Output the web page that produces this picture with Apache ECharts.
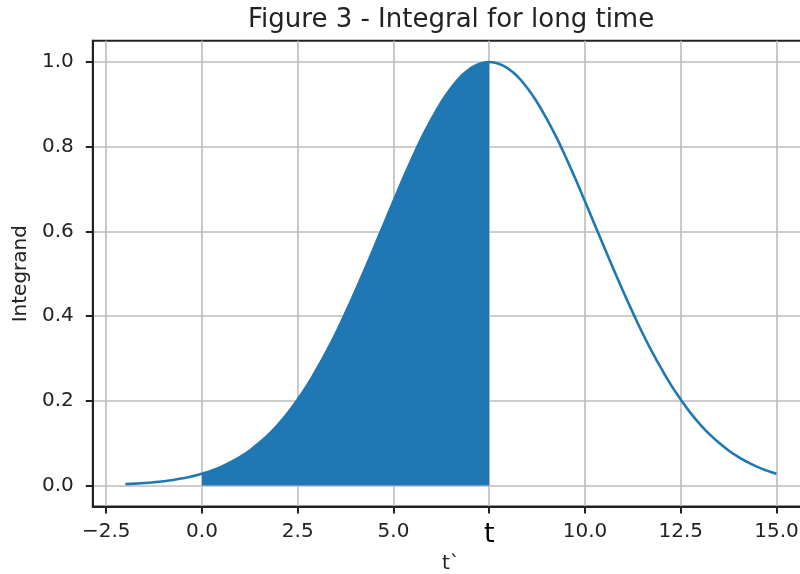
<!DOCTYPE html>
<html>
<head>
<meta charset="utf-8">
<script src="https://cdn.jsdelivr.net/npm/echarts@6/dist/echarts.min.js"></script>
<style>html,body{margin:0;padding:0;background:#fff;}#c{width:800px;height:574px;}</style>
</head>
<body>
<div id="c"></div>
<script>
// values
var xs = [-2, -1.75, -1.5, -1.25, -1, -0.75, -0.5, -0.25,
          0, 0.25, 0.5, 0.75, 1, 1.25, 1.5, 1.75, 2, 2.25, 2.5, 2.75,
          3, 3.25, 3.5, 3.75, 4, 4.25, 4.5, 4.75, 5, 5.25, 5.5, 5.75,
          6, 6.25, 6.5, 6.75, 7, 7.25, 7.5, 7.75, 8, 8.25, 8.5, 8.75,
          9, 9.25, 9.5, 9.75, 10, 10.25, 10.5, 10.75, 11, 11.25, 11.5, 11.75,
          12, 12.25, 12.5, 12.75, 13, 13.25, 13.5, 13.75, 14, 14.25, 14.5, 14.75, 15];
var ys = [0.0032, 0.0043, 0.0057, 0.0076, 0.0100, 0.0130, 0.0169, 0.0217,
          0.0277, 0.0350, 0.0439, 0.0548, 0.0675, 0.0826, 0.101, 0.121, 0.145, 0.172, 0.203, 0.237,
          0.275, 0.316, 0.360, 0.408, 0.458, 0.510, 0.563, 0.617, 0.671, 0.724, 0.775, 0.823,
          0.866, 0.905, 0.938, 0.965, 0.984, 0.996, 1.000, 0.996, 0.984, 0.965, 0.938, 0.905,
          0.866, 0.823, 0.775, 0.724, 0.671, 0.617, 0.563, 0.510, 0.458, 0.408, 0.360, 0.316,
          0.275, 0.237, 0.203, 0.172, 0.145, 0.121, 0.101, 0.0826, 0.0675, 0.0548, 0.0439, 0.0350, 0.0277];
var fillFrom = 0;
var fillTo = 7.5;
var xTicks = [-2.5, 0, 2.5, 5, 7.5, 10, 12.5, 15];
var yTicks = [0, 0.2, 0.4, 0.6, 0.8, 1.0];
var titleText = 'Figure 3 - Integral for long time';
var xName = 't`';
var yName = 'Integrand';
var markedTick = 7.5;
var markedLabel = 't';

var curve = xs.map(function (x, i) { return [x, ys[i]]; });
var filled = curve.filter(function (p) { return p[0] >= fillFrom && p[0] <= fillTo; });

var FONT = 'DejaVu Sans';
var TXT = '#222';
var chart = echarts.init(document.getElementById('c'), null, {renderer: 'canvas'});
chart.setOption({
  animation: false,
  backgroundColor: '#fff',
  title: {
    text: titleText,
    left: 243, top: 2,
    textStyle: {fontFamily: FONT, fontSize: 26, fontWeight: 'normal', color: TXT}
  },
  grid: {
    left: 92.8, top: 40.8, width: 716.2, height: 465.8,
    outerBoundsMode: 'none', containLabel: false,
    show: true, borderColor: '#222', borderWidth: 2, backgroundColor: 'transparent'
  },
  xAxis: {
    type: 'value', min: -2.85, max: 15.85,
    name: xName, nameLocation: 'middle', nameGap: 44,
    nameTextStyle: {fontFamily: FONT, fontSize: 20, color: TXT},
    axisLine: {show: true, onZero: false, lineStyle: {color: '#222', width: 2}},
    axisTick: {show: true, inside: false, length: 7, customValues: xTicks, lineStyle: {color: '#222', width: 2}},
    axisLabel: {
      customValues: xTicks, margin: 15, hideOverlap: false,
      fontFamily: FONT, fontSize: 20, color: TXT,
      formatter: function (v) {
        if (Math.abs(v - markedTick) < 1e-9) return '{t|' + markedLabel + '}';
        return v.toFixed(1).replace('-', '\u2212');
      },
      rich: {t: {fontFamily: FONT, fontSize: 27, color: '#000'}}
    },
    splitLine: {show: true, lineStyle: {color: '#bcbcbc', width: 1.6}}
  },
  yAxis: {
    type: 'value', min: -0.05, max: 1.05,
    name: yName, nameLocation: 'middle', nameGap: 58, nameRotate: 90,
    nameTextStyle: {fontFamily: FONT, fontSize: 20, color: TXT},
    axisLine: {show: true, onZero: false, lineStyle: {color: '#222', width: 2}},
    axisTick: {show: true, inside: false, length: 7, customValues: yTicks, lineStyle: {color: '#222', width: 2}},
    axisLabel: {
      customValues: yTicks, margin: 19,
      fontFamily: FONT, fontSize: 20, color: TXT,
      formatter: function (v) { return v.toFixed(1); }
    },
    splitLine: {show: true, lineStyle: {color: '#bcbcbc', width: 1.6}}
  },
  series: [
    {
      type: 'line', data: filled, smooth: true, symbol: 'none',
      lineStyle: {width: 0}, areaStyle: {color: '#1f77b4', opacity: 1, origin: 0},
      z: 2
    },
    {
      type: 'line', data: curve, smooth: true, symbol: 'none',
      lineStyle: {color: '#1f77b4', width: 2.6}, z: 3
    }
  ]
});
</script>
</body>
</html>
